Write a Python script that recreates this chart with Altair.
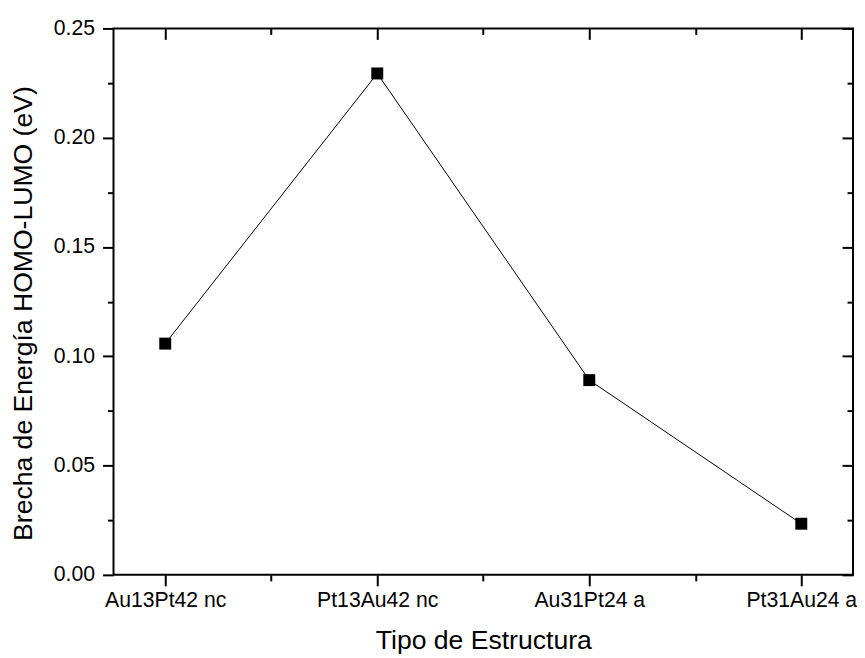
import json
import altair as alt
import pandas as pd

# Data
estructuras = ["Au13Pt42 nc", "Pt13Au42 nc", "Au31Pt24 a", "Pt31Au24 a"]
brecha = [0.1058, 0.2294, 0.0891, 0.0234]

y_major = [0.0, 0.05, 0.10, 0.15, 0.20, 0.25]
y_minor = [0.025, 0.075, 0.125, 0.175, 0.225]
x_major = [0, 1, 2, 3]
x_minor = [0.5, 1.5, 2.5]

df = pd.DataFrame({"idx": list(range(len(estructuras))),
                   "estructura": estructuras,
                   "brecha": brecha})

FONT = "Liberation Sans"
label_expr = json.dumps(estructuras) + "[round(datum.value)]"

x_scale = alt.Scale(domain=[-0.244, 3.244], nice=False, zero=False)
y_scale = alt.Scale(domain=[0, 0.25], nice=False, zero=False)

common_axis = dict(domain=False, grid=False, tickColor="black", tickWidth=2,
                   labelFont=FONT, labelColor="black", titleFont=FONT,
                   titleColor="black", titleFontWeight="normal")

base = alt.Chart(df)

line = base.mark_line(color="black", strokeWidth=1).encode(
    x=alt.X("idx:Q", scale=x_scale, title="Tipo de Estructura",
            axis=alt.Axis(orient="bottom", values=x_major, tickSize=11,
                          labelExpr=label_expr, labelFontSize=21.3,
                          labelPadding=4, titleFontSize=26.7, titlePadding=17,
                          **common_axis)),
    y=alt.Y("brecha:Q", scale=y_scale, title="Brecha de Energía HOMO-LUMO (eV)",
            axis=alt.Axis(orient="left", values=y_major, tickSize=11,
                          format=".2f", labelFontSize=21.3, labelPadding=8,
                          titleFontSize=26.7, titlePadding=16, titleY=286,
                          **common_axis)),
)

points = base.mark_point(shape="square", filled=True, color="black",
                         size=144, opacity=1).encode(
    x=alt.X("idx:Q", scale=x_scale, axis=None),
    y=alt.Y("brecha:Q", scale=y_scale, axis=None),
)

def tick_layer(x_orient, y_orient, xv, yv, size, offset):
    return base.mark_point(opacity=0).encode(
        x=alt.X("idx:Q", scale=x_scale, title=None,
                axis=alt.Axis(orient=x_orient, values=xv, tickSize=size,
                              offset=offset, labels=False, **common_axis)),
        y=alt.Y("brecha:Q", scale=y_scale, title=None,
                axis=alt.Axis(orient=y_orient, values=yv, tickSize=size,
                              offset=offset, labels=False, **common_axis)),
    )

minor_out = tick_layer("bottom", "left", x_minor, y_minor, 6, 0)
major_in = tick_layer("top", "right", x_major, y_major, 11, -11)
minor_in = tick_layer("top", "right", x_minor, y_minor, 6, -6)

chart = alt.layer(line, points, minor_out, major_in, minor_in).resolve_axis(
    x="independent", y="independent"
).properties(
    width=743, height=549,
    autosize=alt.AutoSizeParams(type="none"),
    padding={"left": 106, "top": 19, "right": 4, "bottom": 82},
    background="white",
).configure_view(stroke="black", strokeWidth=2)

chart.save("out.html", embed_options={"renderer": "svg", "actions": False})
